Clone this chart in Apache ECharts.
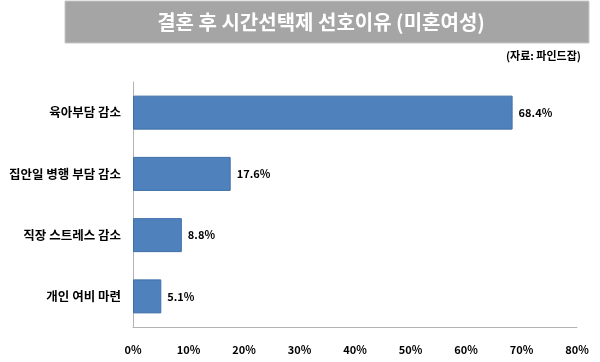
<!DOCTYPE html>
<html><head><meta charset="utf-8">
<script src="https://cdn.jsdelivr.net/npm/echarts@6/dist/echarts.min.js"></script>
<style>html,body{margin:0;padding:0;background:#fff}#c{width:600px;height:362px}</style>
</head><body><div id="c"></div>
<script>
var categories = ['육아부담 감소', '집안일 병행 부담 감소', '직장 스트레스 감소', '개인 여비 마련'];
var values = [68.4, 17.6, 8.8, 5.1];
var titleText = '결혼 후 시간선택제 선호이유 (미혼여성)';
var sourceText = '(자료: 파인드잡)';
var font = '"Noto Sans CJK KR", sans-serif';
var chart = echarts.init(document.getElementById('c'));
chart.setOption({
  animation: false,
  graphic: [
    {type: 'rect', shape: {x: 65, y: 1, width: 524, height: 42}, style: {fill: '#a5a5a5', stroke: '#c8c8c8', lineWidth: 1}},
    {type: 'text', x: 321, y: 22, style: {text: titleText, fill: '#fff', font: 'bold 20px ' + font, align: 'center', verticalAlign: 'middle'}},
    {type: 'text', x: 581, y: 56, style: {text: sourceText, fill: '#000', font: 'bold 11px ' + font, align: 'right', verticalAlign: 'middle'}}
  ],
  grid: {left: 133, right: 23, top: 82, bottom: 35},
  xAxis: {
    type: 'value', min: 0, max: 80, interval: 10,
    axisLine: {show: true, lineStyle: {color: '#b3b3b3', width: 1}},
    axisTick: {show: false},
    splitLine: {show: false},
    axisLabel: {formatter: '{value}%', color: '#000', fontWeight: 'bold', fontSize: 11, fontFamily: font, margin: 17}
  },
  yAxis: {
    type: 'category', data: categories, inverse: true,
    axisLine: {show: true, lineStyle: {color: '#b3b3b3', width: 1}},
    axisTick: {show: false},
    axisLabel: {color: '#000', fontWeight: 'bold', fontSize: 12.5, fontFamily: font, margin: 12}
  },
  series: [{
    type: 'bar', data: values, barWidth: 34,
    itemStyle: {color: '#4f81bd', borderColor: '#3f6fa8', borderWidth: 1},
    label: {show: true, position: 'right', distance: 6, formatter: '{c}%', color: '#000', fontWeight: 'bold', fontSize: 11, fontFamily: font}
  }]
});
</script></body></html>
